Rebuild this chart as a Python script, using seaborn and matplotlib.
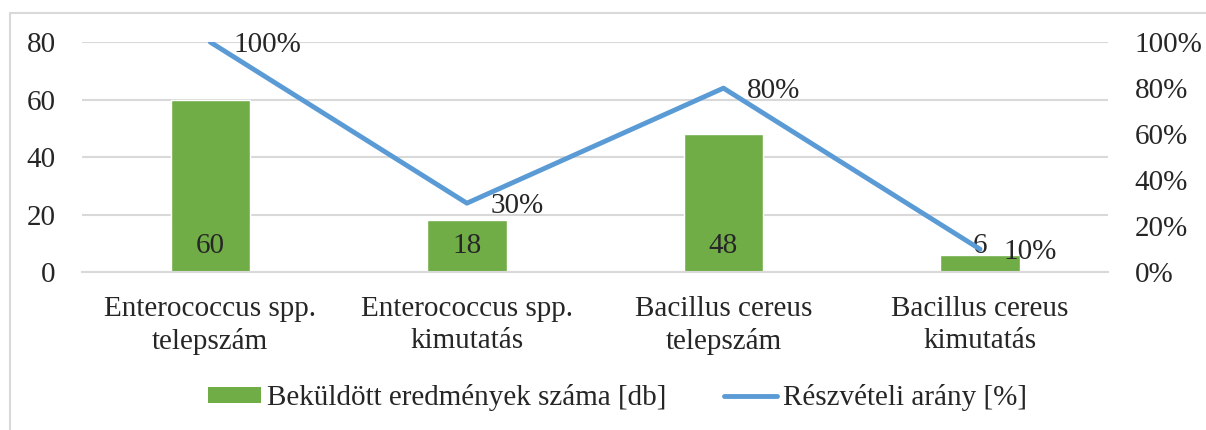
import numpy as np
import pandas as pd
import matplotlib
matplotlib.use("Agg")
import matplotlib.pyplot as plt
import seaborn as sns
from matplotlib.patches import Rectangle
from matplotlib.ticker import FuncFormatter

# Chart data
categories = [
    "Enterococcus spp.\ntelepszám",
    "Enterococcus spp.\nkimutatás",
    "Bacillus cereus\ntelepszám",
    "Bacillus cereus\nkimutatás",
]
results_count = [60, 18, 48, 6]
participation_pct = [100, 30, 80, 10]

bar_label = "Beküldött eredmények száma [db]"
line_label = "Részvételi arány [%]"

GREEN = "#70AD47"
BLUE = "#5B9BD5"
GRID = "#D9D9D9"
FS = 21

sns.set_style("white")
plt.rcParams["font.family"] = ["Liberation Serif", "DejaVu Serif"]
plt.rcParams["font.size"] = FS

df = pd.DataFrame({"category": categories, "count": results_count, "pct": participation_pct})

fig = plt.figure(figsize=(12.06, 4.30), dpi=100)
ax = fig.add_axes([0.068, 0.367, 0.851, 0.535])

sns.barplot(data=df, x="category", y="count", color=GREEN, width=0.31,
            saturation=1, ax=ax, zorder=2)
ax.set_ylim(0, 80)
ax.set_yticks(range(0, 81, 20))
ax.set_xlim(-0.5, len(categories) - 0.5)
ax.yaxis.grid(True, color=GRID, linewidth=1.5, zorder=0)
ax.set_axisbelow(True)
ax.set_xlabel("")
ax.set_ylabel("")
for s in ax.spines.values():
    s.set_visible(False)
ax.spines["bottom"].set_visible(True)
ax.spines["bottom"].set_color(GRID)
ax.spines["bottom"].set_linewidth(1.5)
ax.tick_params(axis="y", length=0, pad=19, labelsize=FS)
ax.tick_params(axis="x", length=0, pad=17, labelsize=FS)
for lab in ax.get_xticklabels():
    lab.set_linespacing(1.3)

for i, v in enumerate(results_count):
    ax.annotate(str(v), (i, 0), xytext=(0, 19), textcoords="offset points",
                ha="center", va="center", fontsize=FS, zorder=5)

ax2 = ax.twinx()
sns.lineplot(x=np.arange(len(categories)), y=participation_pct, color=BLUE,
             linewidth=3.5, ax=ax2, zorder=3)
ax2.set_ylim(0, 100)
ax2.set_yticks(range(0, 101, 20))
ax2.yaxis.set_major_formatter(FuncFormatter(lambda v, p: f"{v:.0f}%"))
ax2.tick_params(axis="y", length=0, pad=19, labelsize=FS)
for s in ax2.spines.values():
    s.set_visible(False)
ax2.set_ylabel("")

for i, v in enumerate(participation_pct):
    ax2.annotate(f"{v}%", (i, v), xytext=(17, -2), textcoords="offset points",
                 ha="left", va="center", fontsize=FS, zorder=5)

# legend
handles = [
    Rectangle((0, 0), 1, 1, facecolor=GREEN, edgecolor="none"),
    plt.Line2D([0], [0], color=BLUE, linewidth=3.5),
]
fig.legend(handles, [bar_label, line_label], loc="center", bbox_to_anchor=(0.512, 0.075),
           ncol=2, frameon=False, fontsize=FS, handlelength=1.8, handleheight=0.5,
           handletextpad=0.2, columnspacing=2.0)

# outer chart border
fig.patches.append(Rectangle((10 / 1206, -0.05), 1.2, (430 - 13) / 430 + 0.05,
                             transform=fig.transFigure, fill=False,
                             edgecolor=GRID, linewidth=1.5))

fig.savefig("out.png", dpi=100)
